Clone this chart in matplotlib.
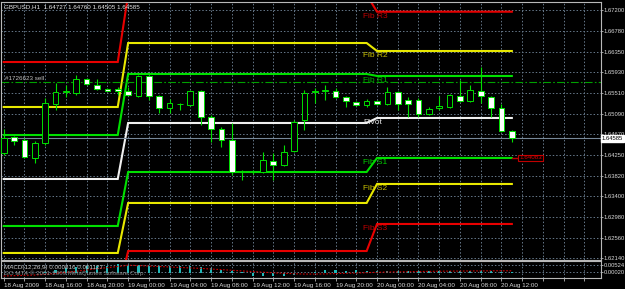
import numpy as np
import matplotlib.pyplot as plt

plt.rcParams['font.family'] = ['Liberation Sans', 'DejaVu Sans']

# GBPUSD H1 candles, 18 Aug 12:00 .. 20 Aug 13:00
opens = [1.64286, 1.64612, 1.64551, 1.64184, 1.64489, 1.65284, 1.65529, 1.65508, 1.65794, 1.65671,
         1.65590, 1.65590, 1.65549, 1.65447, 1.65855, 1.65447, 1.65203, 1.65284, 1.65264, 1.65549,
         1.65019, 1.64775, 1.64551, 1.63898, 1.63898, 1.63898, 1.64123, 1.64041, 1.64326, 1.64958,
         1.65529, 1.65549, 1.65549, 1.65427, 1.65325, 1.65264, 1.65345, 1.65284, 1.65529, 1.65366,
         1.65366, 1.65080, 1.65203, 1.65223, 1.65447, 1.65345, 1.65549, 1.65427, 1.65203, 1.64727]
highs = [1.64775, 1.64632, 1.64591, 1.64530, 1.65407, 1.65712, 1.65671, 1.65875, 1.65814, 1.65794,
         1.65610, 1.65631, 1.65631, 1.65875, 1.65875, 1.65468, 1.65386, 1.65305, 1.65570, 1.65570,
         1.65060, 1.64816, 1.64897, 1.63939, 1.63939, 1.64306, 1.64286, 1.64449, 1.64958, 1.65570,
         1.65610, 1.65671, 1.65610, 1.65447, 1.65345, 1.65386, 1.65366, 1.65631, 1.65549, 1.65427,
         1.65407, 1.65223, 1.65447, 1.65488, 1.65773, 1.65671, 1.66038, 1.65447, 1.65284, 1.64760]
lows = [1.64245, 1.64449, 1.64184, 1.64082, 1.64449, 1.65162, 1.65427, 1.65468, 1.65671, 1.65570,
        1.65549, 1.65468, 1.65447, 1.65427, 1.65366, 1.65101, 1.65101, 1.65162, 1.65244, 1.64856,
        1.64510, 1.64408, 1.63837, 1.63735, 1.63857, 1.63878, 1.63735, 1.64021, 1.64306, 1.64754,
        1.65305, 1.65366, 1.65407, 1.65223, 1.65244, 1.65223, 1.65264, 1.65264, 1.65162, 1.65019,
        1.65019, 1.65060, 1.65162, 1.65203, 1.65325, 1.65325, 1.65305, 1.65019, 1.64714, 1.64505]
closes = [1.64591, 1.64530, 1.64204, 1.64489, 1.65305, 1.65529, 1.65549, 1.65794, 1.65692, 1.65590,
          1.65549, 1.65549, 1.65468, 1.65855, 1.65447, 1.65203, 1.65305, 1.65294, 1.65549, 1.65019,
          1.64775, 1.64551, 1.63898, 1.63919, 1.63919, 1.64143, 1.64041, 1.64306, 1.64917, 1.65508,
          1.65549, 1.65570, 1.65427, 1.65345, 1.65264, 1.65345, 1.65284, 1.65529, 1.65284, 1.65284,
          1.65080, 1.65182, 1.65244, 1.65468, 1.65345, 1.65570, 1.65447, 1.65203, 1.64734, 1.64585]

macd_main = [0.0001, 0.0001, -0.0001, -0.0001, 0.0006, 0.0018, 0.0028, 0.0038, 0.0043, 0.0045,
             0.0043, 0.0056, 0.0050, 0.0050, 0.0043, 0.0043, 0.0043, 0.0043, 0.0043, 0.0039,
             0.0029, 0.0021, 0.0011, 0.0002, -0.0020, -0.0020, -0.0022, -0.0018, -0.0012, -0.0004,
             0.0004, 0.0015, 0.0015, 0.0013, 0.0015, 0.0014, 0.0012, 0.0014, 0.0012, 0.0011,
             0.0010, 0.0011, 0.0012, 0.0013, 0.0012, 0.0013, 0.0012, 0.0011, 0.0008, 0.0005]
macd_signal = [-0.0020, -0.0018, -0.0016, -0.0014, -0.0010, -0.0004, 0.0003, 0.0010, 0.0018, 0.0026,
               0.0033, 0.0040, 0.0048, 0.0046, 0.0043, 0.0040, 0.0037, 0.0034, 0.0031, 0.0028,
               0.0024, 0.0020, 0.0016, 0.0012, 0.0008, 0.0004, 0.0000, -0.0003, -0.0006, -0.0008,
               -0.0008, -0.0007, -0.0005, -0.0003, -0.0001, 0.0001, 0.0003, 0.0005, 0.0006, 0.0007,
               0.0008, 0.0009, 0.0010, 0.0011, 0.0011, 0.0012, 0.0012, 0.0013, 0.0013, 0.0013]

# daily fibonacci pivot levels: R3, R2, R1, P, S1, S2, S3
piv_names = ['Fib R3', 'Fib R2', 'Fib R1', 'Pivot', 'Fib S1', 'Fib S2', 'Fib S3']
piv_18 = [1.66140, 1.65223, 1.64652, 1.63756, 1.62798, 1.62248, 1.61390]
piv_19 = [1.67510, 1.66527, 1.65896, 1.64897, 1.63898, 1.63267, 1.62288]
piv_20 = [1.67165, 1.66364, 1.65855, 1.64999, 1.64184, 1.63654, 1.62839]
piv_colors = ['#E80000', '#E8E800', '#00E000', '#F0F0F0', '#00E000', '#E8E800', '#E80000']
lbl_colors = ['#C00000', '#C8C000', '#00B400', '#E0E0E0', '#00D000', '#C8C000', '#C00000']

price_ticks = [1.67200, 1.66780, 1.66350, 1.65930, 1.65510, 1.65090, 1.64670,
               1.64250, 1.63820, 1.63400, 1.62980, 1.62560, 1.62140]
time_labels = ['18 Aug 2009', '18 Aug 16:00', '18 Aug 20:00', '19 Aug 00:00', '19 Aug 04:00',
               '19 Aug 08:00', '19 Aug 12:00', '19 Aug 16:00', '19 Aug 20:00', '20 Aug 00:00',
               '20 Aug 04:00', '20 Aug 08:00', '20 Aug 12:00']

last_price = 1.64585
sell_price = 1.65733

W, H = 625, 289
FG = '#D8D8D8'
GRID = '#66788A'
FRAME = '#B8B8B8'
LIME = '#00E000'

x = np.arange(len(opens))
o = np.array(opens); c = np.array(closes)
bull = c >= o

fig = plt.figure(figsize=(6.25, 2.89), dpi=100, facecolor='black')
ax = fig.add_axes([1.5 / W, 1 - 259.5 / H, 599 / W, 258 / H], facecolor='black')
mx = fig.add_axes([1.5 / W, 1 - 278 / H, 599 / W, 17 / H], facecolor='black')

for a in (ax, mx):
    a.set_xlim(-0.21, 57.55)
    a.set_xticks(np.arange(0, 58, 2))
    a.grid(True, color=GRID, linestyle=(0, (1.5, 2)), linewidth=0.7)
    a.set_axisbelow(True)
    for s in a.spines.values():
        s.set_color(FRAME)
        s.set_linewidth(0.8)
    a.yaxis.tick_right()
    a.tick_params(axis='y', length=1.5, width=0.6, color=FRAME, labelsize=4.2,
                  labelcolor=FG, pad=0.8)

ax.set_ylim(1.62115, 1.67373)
ax.set_yticks(price_ticks)
ax.set_yticklabels(['%.5f' % v for v in price_ticks])
ax.tick_params(axis='x', length=0, labelbottom=False)

# pivot lines
for k in range(7):
    xs = [0, 11, 12, 35, 36, 49]
    ys = [piv_18[k], piv_18[k], piv_19[k], piv_19[k], piv_20[k], piv_20[k]]
    ax.plot(xs, ys, color=piv_colors[k], lw=1.5, zorder=2, solid_joinstyle='miter')
    ax.annotate(piv_names[k], xy=(34.65, piv_20[k]), xytext=(0, -1), textcoords='offset pixels',
                ha='left', va='top', fontsize=6, color=lbl_colors[k], zorder=5)

ax.axhline(last_price, color='#778899', lw=0.8, zorder=2)
ax.axhline(sell_price, color='#00A000', lw=0.8, linestyle=(0, (7, 2, 1.5, 2)), zorder=2)

# candles
ax.vlines(x, lows, highs, color=LIME, lw=0.8, zorder=3)
ax.bar(x, np.maximum(np.abs(c - o), 0.00003), bottom=np.minimum(o, c), width=0.55,
       color=np.where(bull, 'black', 'white'), edgecolor=LIME, linewidth=0.7, zorder=4)

# order price box next to S1
ax.plot([49, 49.6], [piv_20[4], piv_20[4]], color='#C00000', lw=1, zorder=2)
ax.annotate('1.64083', xy=(49.7, piv_20[4]), ha='left', va='center', fontsize=4.5,
            color='#E00000', zorder=6,
            bbox=dict(boxstyle='square,pad=0.15', fc='black', ec='#C00000', lw=0.8))

# MACD panel
mx.set_ylim(-0.0033, 0.0075)
mx.set_yticks([0.00524, 0.00020])
mx.set_yticklabels(['0.00524', '0.00020'])
mx.bar(x, macd_main, width=0.2, color='#20B8B8', zorder=3)
mx.plot(x, macd_signal, color='#D00000', lw=0.8, linestyle=(0, (1.5, 1.5)), zorder=4)
labels = [time_labels[t // 4] if t % 4 == 0 and t // 4 < len(time_labels) else ''
          for t in range(0, 58, 2)]
mx.set_xticklabels(labels)
mx.tick_params(axis='x', length=2, width=0.6, color=FRAME, labelsize=4.5, labelcolor=FG, pad=1.5)
for t in mx.get_xticklabels():
    t.set_ha('left')

# texts
def fx(px):
    return px / W

def fy(py):
    return 1 - py / H

fig.text(fx(4), fy(7), 'GBPUSD,H1  1.64727 1.64760 1.64505 1.64585', fontsize=4.5,
         color='#E8E8E8', va='center', ha='left')
fig.text(fx(5), fy(78), '#1726623 sell', fontsize=4.5, color='#C0C0C0', va='center', ha='left')
fig.text(fx(4), fy(268), 'MACD(12,26,9) 0.000816 0.001127', fontsize=4.5, color='#C8C8C8',
         va='center', ha='left')
fig.text(fx(4), fy(273), 'GO MT4 \u00a9 2001-2009 MetaQuotes Software Corp.', fontsize=4.5,
         color='#909090', va='center', ha='left')
fig.text(fx(602), fy(138.5), '1.64585', fontsize=4.2, color='black', va='center', ha='left',
         bbox=dict(boxstyle='square,pad=0.12', fc='white', ec='white'))

fig.savefig('out.png', dpi=100, facecolor='black')
